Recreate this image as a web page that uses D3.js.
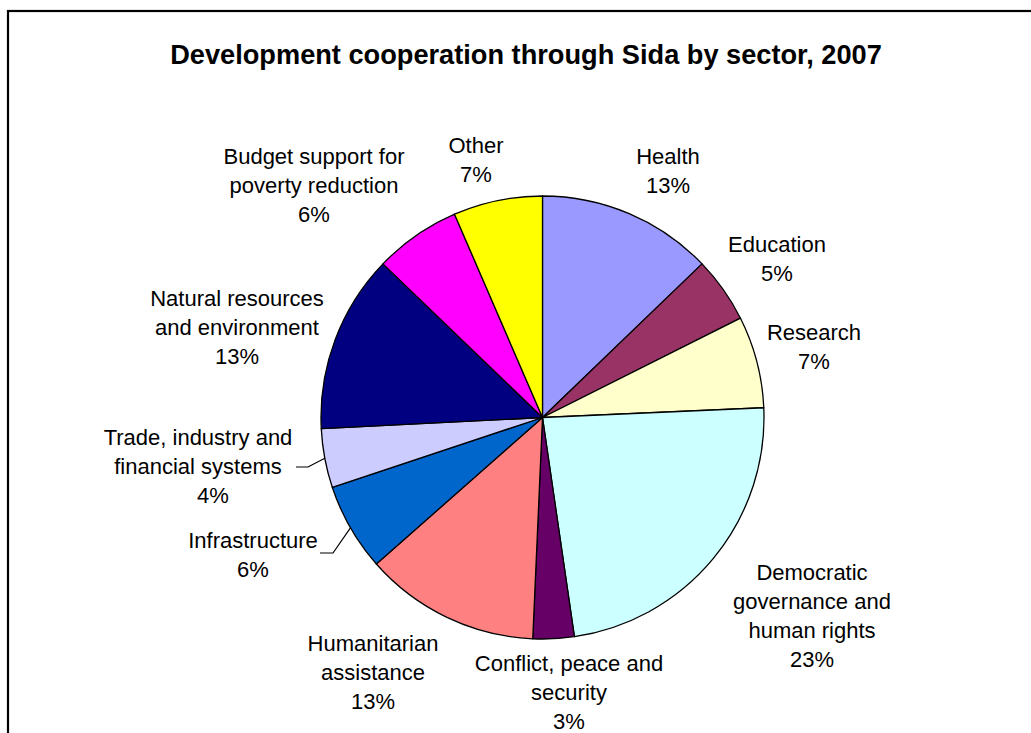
<!DOCTYPE html>
<html>
<head>
<meta charset="utf-8">
<script src="https://cdn.jsdelivr.net/npm/d3@7"></script>
<style>
  html, body { margin: 0; padding: 0; background: #fff; }
  svg { display: block; }
  text { font-family: "Liberation Sans", Arial, sans-serif; fill: #000; }
</style>
</head>
<body>
<svg id="chart" width="1031" height="733"></svg>
<script>
// Sida development cooperation 2007, share of total by sector (%)
const sectors = [
  "Health", "Education", "Research", "Democratic governance and human rights",
  "Conflict, peace and security", "Humanitarian assistance", "Infrastructure",
  "Trade, industry and financial systems", "Natural resources and environment",
  "Budget support for poverty reduction", "Other"
];
const shares = [12.8, 4.8, 6.7, 23.4, 3.0, 12.8, 6.4, 4.3, 13.0, 6.3, 6.5];
const sliceColors = [
  "#9999FF", "#993366", "#FFFFCC", "#CCFFFF", "#660066", "#FF8080",
  "#0066CC", "#CCCCFF", "#000080", "#FF00FF", "#FFFF00"
];
// label text broken into lines (category lines; percentage added below)
const labelLines = [
  ["Health"], ["Education"], ["Research"],
  ["Democratic", "governance and", "human rights"],
  ["Conflict, peace and", "security"],
  ["Humanitarian", "assistance"],
  ["Infrastructure"],
  ["Trade, industry and", "financial systems"],
  ["Natural resources", "and environment"],
  ["Budget support for", "poverty reduction"],
  ["Other"]
];

// label block placement: centre x, first baseline y, and per-line x tweaks
const labelPlace = [
  { x: 668, y: 164 }, { x: 777, y: 252 }, { x: 814, y: 340 },
  { x: 812, y: 580 }, { x: 569, y: 671 }, { x: 373, y: 651 },
  { x: 253, y: 548, leader: [[320, 553], [333, 553]] },
  { x: 198, y: 445, dx: [0, 0, 15], leader: [[296, 467], [308, 467]] },
  { x: 237, y: 306 }, { x: 314, y: 164 }, { x: 476, y: 153 }
];

const svg = d3.select("#chart");
const cx = 542.5, cy = 417.5, r = 221.5;
const lineH = 29;

// outer chart frame
svg.append("rect")
  .attr("x", 8).attr("y", 11)
  .attr("width", 1200).attr("height", 900)
  .attr("fill", "none").attr("stroke", "#000").attr("stroke-width", 2.2);

// title
svg.append("text")
  .attr("x", 526).attr("y", 64)
  .attr("text-anchor", "middle")
  .style("font-weight", "bold").style("font-size", "27.2px")
  .text("Development cooperation through Sida by sector, 2007");

const data = sectors.map((s, i) => ({ name: s, value: shares[i], i }));
const total = d3.sum(shares);

const pie = d3.pie().value(d => d.value).sort(null);
const arcs = pie(data);
const arc = d3.arc().innerRadius(0).outerRadius(r);

const g = svg.append("g").attr("transform", `translate(${cx},${cy})`);
g.selectAll("path.slice")
  .data(arcs)
  .join("path")
  .attr("class", "slice")
  .attr("d", arc)
  .attr("fill", d => sliceColors[d.data.i])
  .attr("stroke", "#000")
  .attr("stroke-width", 1.3)
  .attr("stroke-linejoin", "round");

// leader lines: from label to the slice's outer edge at its mid angle
arcs.forEach(a => {
  const p = labelPlace[a.data.i];
  if (!p.leader) return;
  const mid = (a.startAngle + a.endAngle) / 2;
  const ex = cx + r * Math.sin(mid), ey = cy - r * Math.cos(mid);
  const pts = p.leader.concat([[ex, ey]]);
  svg.append("path")
    .attr("d", d3.line()(pts))
    .attr("fill", "none").attr("stroke", "#000").attr("stroke-width", 1.2);
});

// labels
arcs.forEach(a => {
  const i = a.data.i;
  const p = labelPlace[i];
  const pct = Math.round(a.data.value / total * 100) + "%";
  const lines = labelLines[i].concat([pct]);
  const t = svg.append("text")
    .attr("text-anchor", "middle")
    .style("font-size", "22px");
  lines.forEach((ln, k) => {
    t.append("tspan")
      .attr("x", p.x + (p.dx ? p.dx[k] : 0))
      .attr("y", p.y + k * lineH)
      .text(ln);
  });
});
</script>
</body>
</html>
